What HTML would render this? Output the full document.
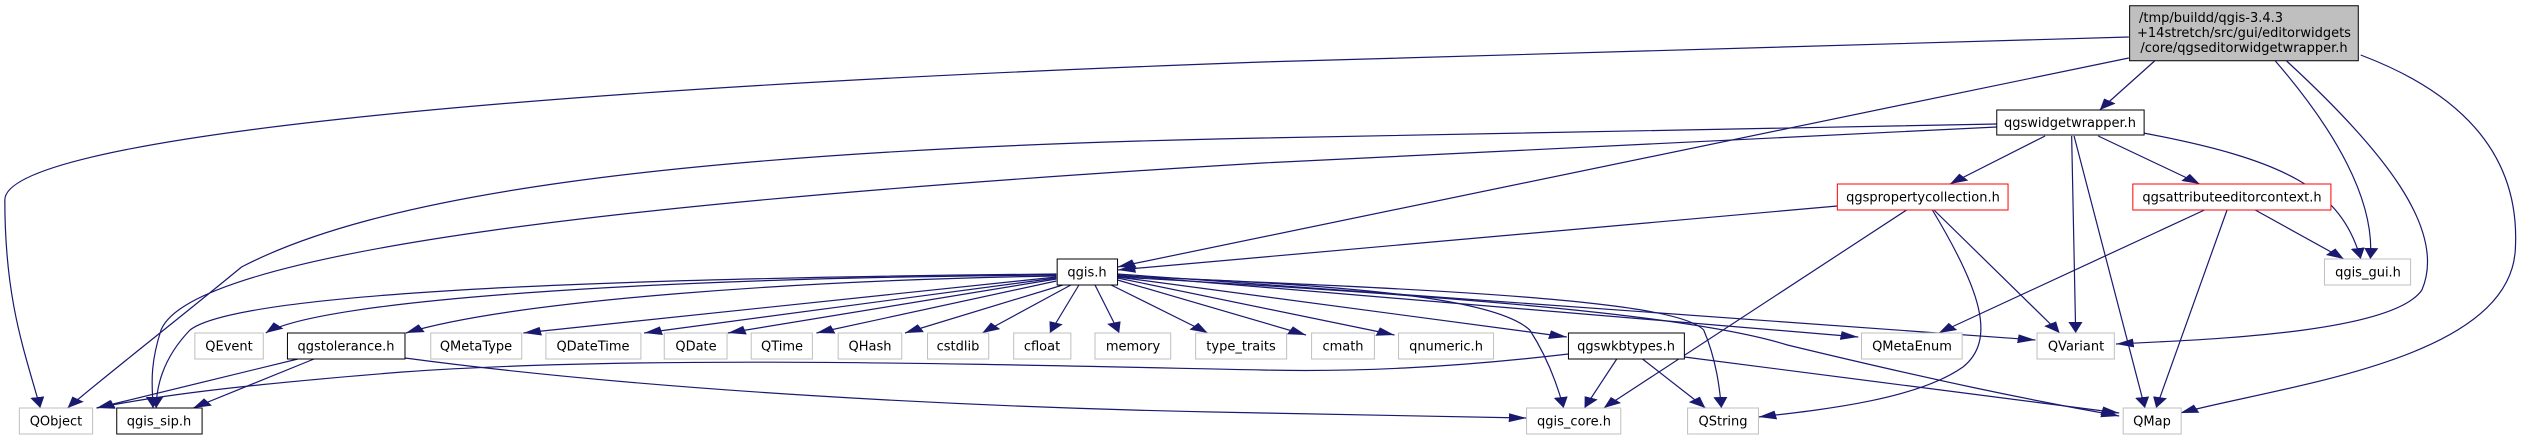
<!DOCTYPE html>
<html><head><meta charset="utf-8"><style>
html,body{margin:0;padding:0;background:#fff;width:2525px;height:440px;overflow:hidden}
svg text{font-family:"DejaVu Sans","Liberation Sans",sans-serif;font-size:13px;fill:#000;text-anchor:middle}
</style></head><body>
<svg width="2525" height="440" viewBox="0 0 2525 440" xmlns="http://www.w3.org/2000/svg">
<defs><marker id="a" viewBox="0 0 10 10" refX="10" refY="5" markerWidth="11" markerHeight="11" markerUnits="userSpaceOnUse" orient="auto"><path d="M0,1 L10,5 L0,9 z" fill="#191970"/></marker></defs>
<g transform="scale(1.6103 1)" fill="none" stroke="#191970" stroke-width="1.2">
<g>
<path vector-effect="non-scaling-stroke" marker-end="url(#a)" d="M1322,37 L784,62 C300,90 3,140 3,200 C3,300 15,350 25,408"/>
<path vector-effect="non-scaling-stroke" marker-end="url(#a)" d="M1322,58 L694,267"/>
<path vector-effect="non-scaling-stroke" marker-end="url(#a)" d="M1338,61 L1304,110"/>
<path vector-effect="non-scaling-stroke" marker-end="url(#a)" d="M1413,61 C1450,130 1475,200 1472,259"/>
<path vector-effect="non-scaling-stroke" marker-end="url(#a)" d="M1420,61 C1480,150 1520,230 1504,290 C1485,335 1360,340 1314,344"/>
<path vector-effect="non-scaling-stroke" marker-end="url(#a)" d="M1466,55 C1540,100 1565,170 1562,250 C1558,360 1420,385 1354,413"/>
<path vector-effect="non-scaling-stroke" marker-end="url(#a)" d="M1240,124 L784,138 C400,150 230,200 150,267 C110,320 70,370 42,408"/>
<path vector-effect="non-scaling-stroke" marker-end="url(#a)" d="M1240,127 L784,163 C400,200 120,250 100,330 C92,370 95,390 95,408"/>
<path vector-effect="non-scaling-stroke" marker-end="url(#a)" d="M1270,136 L1211,184"/>
<path vector-effect="non-scaling-stroke" marker-end="url(#a)" d="M1303,136 L1366,184"/>
<path vector-effect="non-scaling-stroke" marker-end="url(#a)" d="M1286.5,136 L1289,333"/>
<path vector-effect="non-scaling-stroke" marker-end="url(#a)" d="M1288,136 L1332,408"/>
<path vector-effect="non-scaling-stroke" marker-end="url(#a)" d="M1331,133 C1420,160 1454,190 1466,259"/>
<path vector-effect="non-scaling-stroke" marker-end="url(#a)" d="M1141,206 L694,270"/>
<path vector-effect="non-scaling-stroke" marker-end="url(#a)" d="M1184,210 L996,408"/>
<path vector-effect="non-scaling-stroke" marker-end="url(#a)" d="M1201,210 L1279,333"/>
<path vector-effect="non-scaling-stroke" marker-end="url(#a)" d="M1200,210 C1230,290 1240,340 1219,367 C1190,400 1130,410 1092,417"/>
<path vector-effect="non-scaling-stroke" marker-end="url(#a)" d="M1369,210 L1204,333"/>
<path vector-effect="non-scaling-stroke" marker-end="url(#a)" d="M1383,210 L1339,408"/>
<path vector-effect="non-scaling-stroke" marker-end="url(#a)" d="M1400.5,210 L1455.5,259"/>
<path vector-effect="non-scaling-stroke" marker-end="url(#a)" d="M656,275 C400,278 200,300 165,333"/>
<path vector-effect="non-scaling-stroke" marker-end="url(#a)" d="M656,276 C500,280 320,300 252,333"/>
<path vector-effect="non-scaling-stroke" marker-end="url(#a)" d="M656,277 L325,333"/>
<path vector-effect="non-scaling-stroke" marker-end="url(#a)" d="M656,278 L400,333"/>
<path vector-effect="non-scaling-stroke" marker-end="url(#a)" d="M656,279 L452,333"/>
<path vector-effect="non-scaling-stroke" marker-end="url(#a)" d="M656,281 L507,333"/>
<path vector-effect="non-scaling-stroke" marker-end="url(#a)" d="M660,285 L562,333"/>
<path vector-effect="non-scaling-stroke" marker-end="url(#a)" d="M665,285 L610,333"/>
<path vector-effect="non-scaling-stroke" marker-end="url(#a)" d="M670,285 L652,333"/>
<path vector-effect="non-scaling-stroke" marker-end="url(#a)" d="M680,285 L695,333"/>
<path vector-effect="non-scaling-stroke" marker-end="url(#a)" d="M690,285 L750,333"/>
<path vector-effect="non-scaling-stroke" marker-end="url(#a)" d="M694,280 L811,335"/>
<path vector-effect="non-scaling-stroke" marker-end="url(#a)" d="M694,278 L866,335"/>
<path vector-effect="non-scaling-stroke" marker-end="url(#a)" d="M694,277 L973,337"/>
<path vector-effect="non-scaling-stroke" marker-end="url(#a)" d="M694,275 L1154,337"/>
<path vector-effect="non-scaling-stroke" marker-end="url(#a)" d="M694,274 L1264,340"/>
<path vector-effect="non-scaling-stroke" marker-end="url(#a)" d="M694,276 C850,285 930,300 950,330 C962,360 968,390 971,408"/>
<path vector-effect="non-scaling-stroke" marker-end="url(#a)" d="M694,276 C900,290 1040,300 1058,330 C1066,360 1068,390 1069,408"/>
<path vector-effect="non-scaling-stroke" marker-end="url(#a)" d="M694,277 C950,300 1060,320 1110,345 C1200,380 1260,400 1316,416"/>
<path vector-effect="non-scaling-stroke" marker-end="url(#a)" d="M656,274 C400,278 150,290 118,330 C100,360 97,390 97,408"/>
<path vector-effect="non-scaling-stroke" marker-end="url(#a)" d="M185,359 L60,408"/>
<path vector-effect="non-scaling-stroke" marker-end="url(#a)" d="M195,359 L120,408"/>
<path vector-effect="non-scaling-stroke" marker-end="url(#a)" d="M251.5,358 C400,390 600,408 784,413 L948,418"/>
<path vector-effect="non-scaling-stroke" marker-end="url(#a)" d="M974,354 C900,368 840,372 784,370 C600,364 400,355 250,372 C150,385 100,395 60,408"/>
<path vector-effect="non-scaling-stroke" marker-end="url(#a)" d="M1004,359 L984,408"/>
<path vector-effect="non-scaling-stroke" marker-end="url(#a)" d="M1020,359 L1059,408"/>
<path vector-effect="non-scaling-stroke" marker-end="url(#a)" d="M1046,357 L1316,413"/>
</g>
<g stroke-width="1">
<rect vector-effect="non-scaling-stroke" x="1322.5" y="5.7" width="142" height="55" fill="#bfbfbf" stroke="#000"/>
<rect vector-effect="non-scaling-stroke" x="1240" y="110" width="91.5" height="25" fill="#fff" stroke="#000"/>
<rect vector-effect="non-scaling-stroke" x="1141" y="184" width="106" height="26" fill="#fff" stroke="#f00"/>
<rect vector-effect="non-scaling-stroke" x="1324.5" y="184" width="123" height="26" fill="#fff" stroke="#f00"/>
<rect vector-effect="non-scaling-stroke" x="656.5" y="259" width="37.5" height="26" fill="#fff" stroke="#000"/>
<g fill="#fff" stroke="#bfbfbf">
<rect vector-effect="non-scaling-stroke" x="1443.5" y="259" width="53.5" height="26"/>
<rect vector-effect="non-scaling-stroke" x="1265" y="333" width="48" height="26"/>
<rect vector-effect="non-scaling-stroke" x="1156" y="333" width="62.5" height="26"/>
<rect vector-effect="non-scaling-stroke" x="868.5" y="333" width="59" height="26"/>
<rect vector-effect="non-scaling-stroke" x="814.5" y="333" width="39" height="26"/>
<rect vector-effect="non-scaling-stroke" x="121" y="333" width="42.5" height="26"/>
<rect vector-effect="non-scaling-stroke" x="267.5" y="333" width="56.5" height="26"/>
<rect vector-effect="non-scaling-stroke" x="339" y="333" width="59" height="26"/>
<rect vector-effect="non-scaling-stroke" x="412.5" y="333" width="39" height="26"/>
<rect vector-effect="non-scaling-stroke" x="466.5" y="333" width="38" height="26"/>
<rect vector-effect="non-scaling-stroke" x="520.5" y="333" width="39.5" height="26"/>
<rect vector-effect="non-scaling-stroke" x="576" y="333" width="38" height="26"/>
<rect vector-effect="non-scaling-stroke" x="629.5" y="333" width="35.5" height="26"/>
<rect vector-effect="non-scaling-stroke" x="680" y="333" width="47" height="26"/>
<rect vector-effect="non-scaling-stroke" x="742.5" y="333" width="56.5" height="26"/>
<rect vector-effect="non-scaling-stroke" x="948" y="408" width="58.5" height="26"/>
<rect vector-effect="non-scaling-stroke" x="1048" y="408" width="44" height="26"/>
<rect vector-effect="non-scaling-stroke" x="1318.5" y="408" width="36" height="26"/>
<rect vector-effect="non-scaling-stroke" x="12" y="408" width="45.5" height="26"/>
</g>
<g fill="#fff" stroke="#000">
<rect vector-effect="non-scaling-stroke" x="974" y="333" width="72" height="26"/>
<rect vector-effect="non-scaling-stroke" x="178.5" y="333" width="73" height="26"/>
<rect vector-effect="non-scaling-stroke" x="72.5" y="408" width="53" height="26"/>
</g>
</g>
</g>
<text x="2139" y="22" style="text-anchor:start">/tmp/buildd/qgis-3.4.3</text>
<text x="2244" y="37">+14stretch/src/gui/editorwidgets</text>
<text x="2244" y="52">/core/qgseditorwidgetwrapper.h</text>
<text x="2070" y="127">qgswidgetwrapper.h</text>
<text x="1923" y="201.5">qgspropertycollection.h</text>
<text x="2232" y="201.5">qgsattributeeditorcontext.h</text>
<text x="1087" y="276.5">qgis.h</text>
<text x="2368" y="276.5">qgis_gui.h</text>
<text x="229" y="350.5">QEvent</text>
<text x="346" y="350.5">qgstolerance.h</text>
<text x="476" y="350.5">QMetaType</text>
<text x="593" y="350.5">QDateTime</text>
<text x="696" y="350.5">QDate</text>
<text x="782" y="350.5">QTime</text>
<text x="870" y="350.5">QHash</text>
<text x="958" y="350.5">cstdlib</text>
<text x="1042" y="350.5">cfloat</text>
<text x="1133" y="350.5">memory</text>
<text x="1241" y="350.5">type_traits</text>
<text x="1343" y="350.5">cmath</text>
<text x="1446" y="350.5">qnumeric.h</text>
<text x="1626" y="350.5">qgswkbtypes.h</text>
<text x="1912" y="350.5">QMetaEnum</text>
<text x="2076" y="350.5">QVariant</text>
<text x="56" y="425.5">QObject</text>
<text x="159" y="425.5">qgis_sip.h</text>
<text x="1574" y="425.5">qgis_core.h</text>
<text x="1723" y="425.5">QString</text>
<text x="2152" y="425.5">QMap</text>
</svg>
</body></html>
